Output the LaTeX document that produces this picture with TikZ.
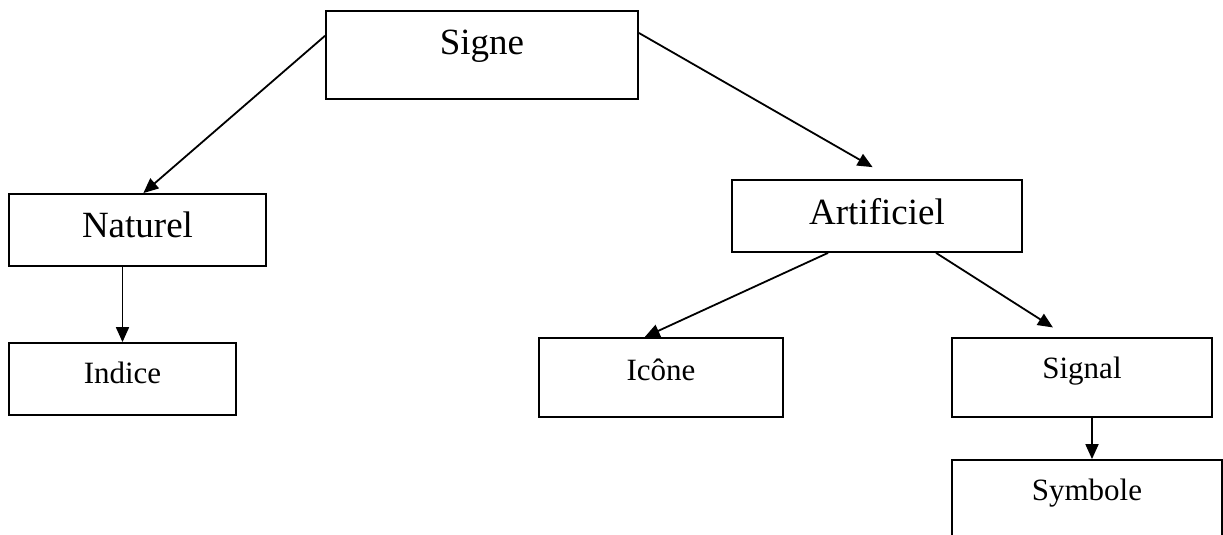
\documentclass[tikz,border=0pt]{standalone}
\usepackage{fontspec}
\setmainfont{Liberation Serif}
\usetikzlibrary{arrows.meta}

\tikzset{
	box/.style={draw, line width=0.9pt, inner sep=0pt, minimum width=#1},
	big/.style={font=\fontsize{18.5}{20}\selectfont},
	small/.style={font=\fontsize{15.5}{17}\selectfont},
	arr/.style={line width=0.9pt, -{Triangle[length=7.5pt,width=6.5pt]}}
}

\begin{document}
\begin{tikzpicture}[x=0.5pt,y=-0.5pt]
		\useasboundingbox (0,0) rectangle (1223,535);
		\clip (0,0) rectangle (1223,535);
		%draw boxes
		\node[box=156pt, big, text height=22pt, text depth=22pt] (signe) at (482,55) {Signe};
		\node[box=128.5pt, big, text height=22pt, text depth=14pt] (naturel) at (137.5,230) {Naturel};
		\node[box=113.5pt, small, text height=20pt, text depth=16pt] (indice) at (122.5,379) {Indice};
		\node[box=145pt, big, text height=22.5pt, text depth=13.5pt] (artificiel) at (877,216) {Artificiel};
		\node[box=122pt, small, text height=21pt, text depth=18.5pt] (icone) at (661,377.5) {Icône};
		\node[box=130pt, small, text height=20.5pt, text depth=19pt] (signal) at (1082,377.5) {Signal};
		\node[box=135pt, small, text height=20pt, text depth=22.5pt] (symbole) at (1087,502.5) {Symbole};
		%draw arrows
		\draw[arr] (signe.173) -- (naturel.81);
		\draw[arr, shorten >=12pt] (signe.8) -- (artificiel.66);
		\draw[arr] (indice.north |- naturel.south) -- (indice.north);
		\draw[arr] (artificiel.217) -- (icone.112);
		\draw[arr, shorten >=9pt] (artificiel.-32) -- (signal.109);
		\draw[arr] ([xshift=5pt]signal.south) -- ([xshift=5pt]signal.south |- symbole.north);
\end{tikzpicture}
\end{document}
